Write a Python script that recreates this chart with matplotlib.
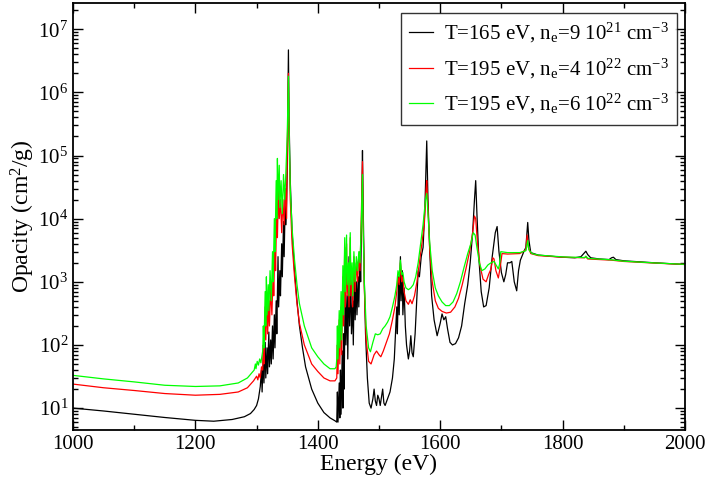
import numpy as np
import matplotlib
matplotlib.use("Agg")
import matplotlib.pyplot as plt
from matplotlib.ticker import MultipleLocator, LogLocator, NullFormatter

plt.rcParams['font.family'] = 'serif'
plt.rcParams['font.serif'] = ['Liberation Serif', 'DejaVu Serif']
plt.rcParams['mathtext.fontset'] = 'custom'
plt.rcParams['mathtext.rm'] = 'Liberation Serif'
plt.rcParams['mathtext.it'] = 'Liberation Serif:italic'

# T=165 eV, ne=9e21 (black)
e_black = [1000, 1050, 1100, 1150, 1200, 1230, 1260, 1280, 1290, 1296, 1300, 1303, 1306, 1308, 1309,
           1311, 1312, 1314, 1315, 1317, 1318, 1320, 1321, 1323, 1324, 1326, 1327, 1329, 1330, 1332,
           1333, 1335, 1336, 1338, 1339, 1341, 1342, 1344, 1345, 1347, 1348, 1350, 1351, 1352, 1353,
           1355, 1358, 1362, 1366, 1370, 1375, 1380, 1390, 1400, 1410, 1420, 1428, 1431, 1432, 1433,
           1435, 1436, 1437, 1438, 1440, 1441, 1442, 1443, 1445, 1446, 1448, 1449, 1451, 1452, 1454,
           1455, 1457, 1458, 1460, 1461, 1463, 1464, 1466, 1467, 1469, 1470, 1472, 1473, 1474, 1476,
           1478, 1481, 1484, 1487, 1490, 1492, 1494, 1496, 1498, 1500, 1502, 1504, 1506, 1508, 1510,
           1514, 1518, 1522, 1525, 1527, 1529, 1530, 1532, 1533, 1535, 1536, 1538, 1539, 1541, 1543,
           1545, 1548, 1550, 1552, 1554, 1556, 1559, 1562, 1564, 1566, 1569, 1572, 1575, 1578, 1580,
           1583, 1586, 1590, 1595, 1600, 1603, 1606, 1609, 1612, 1616, 1620, 1625, 1630, 1635, 1640,
           1645, 1649, 1653, 1656, 1658, 1660, 1663, 1667, 1671, 1675, 1680, 1685, 1690, 1693, 1696,
           1700, 1704, 1707, 1710, 1714, 1717, 1721, 1725, 1728, 1731, 1736, 1740, 1743, 1745, 1748,
           1760, 1780, 1800, 1820, 1830, 1836, 1838, 1841, 1846, 1860, 1876, 1880, 1883, 1887, 1900,
           1950, 2000]
op_black = [10.0, 9.0, 8.0, 7.1, 6.4, 6.2, 6.6, 7.3, 8.2, 9.5, 11, 14, 22, 40, 18,
            70, 25, 110, 30, 90, 35, 160, 45, 120, 50, 200, 60, 300, 90, 500,
            150, 2500, 400, 1500, 600, 4000, 1200, 9000, 2500, 25000, 8000, 50000, 5e5, 4.7e6, 4e5,
            4e4, 6000, 1500, 500, 200, 90, 45, 20, 12, 8.5, 7, 6.3, 6, 18, 6,
            25, 7, 40, 8, 80, 10, 150, 20, 1500, 100, 600, 60, 2500, 200, 1200,
            150, 500, 100, 2000, 250, 1000, 300, 1200, 400, 3000, 1000, 2e4, 1.2e5, 2e4, 1000,
            150, 30, 12, 10, 14, 20, 13, 11, 16, 14, 11, 15, 20, 12, 11,
            14, 18, 30, 60, 150, 400, 150, 1200, 300, 2500, 500, 1500, 300, 800, 200,
            100, 60, 80, 140, 75, 65, 150, 600, 1500, 1200, 2500, 3500, 1.5e4, 1.7e5, 2e4,
            3000, 600, 250, 140, 220, 310, 250, 280, 180, 110, 100, 105, 130, 200, 450,
            900, 2000, 6000, 2e4, 4e4, 1.2e4, 2500, 700, 400, 420, 800, 2500, 6000, 7500, 3000,
            1400, 1000, 1300, 2000, 2000, 2100, 1000, 720, 1500, 2200, 2900, 3500, 8700, 4500, 2900,
            2650, 2550, 2450, 2400, 2500, 2900, 3050, 2700, 2400, 2300, 2250, 2400, 2450, 2250, 2150,
            2000, 1880]

# T=195 eV, ne=4e22 (red)
e_red = [1000, 1050, 1100, 1150, 1200, 1240, 1270, 1285, 1295, 1300, 1302, 1304, 1306, 1308, 1310,
         1311, 1312, 1314, 1315, 1317, 1318, 1320, 1321, 1323, 1325, 1327, 1328, 1330, 1331, 1333,
         1334, 1336, 1337, 1339, 1341, 1343, 1345, 1347, 1349, 1350, 1352, 1353, 1355, 1358, 1362,
         1366, 1370, 1378, 1390, 1400, 1410, 1420, 1428, 1431, 1432, 1433, 1435, 1436, 1438, 1439,
         1441, 1442, 1444, 1445, 1447, 1448, 1450, 1451, 1453, 1454, 1456, 1457, 1459, 1461, 1463,
         1465, 1467, 1469, 1471, 1473, 1474, 1476, 1479, 1483, 1487, 1492, 1496, 1500, 1503, 1507,
         1512, 1517, 1522, 1526, 1529, 1531, 1533, 1535, 1537, 1539, 1541, 1544, 1548, 1551, 1554,
         1558, 1562, 1566, 1570, 1574, 1577, 1578, 1580, 1583, 1587, 1592, 1597, 1603, 1610, 1617,
         1624, 1630, 1636, 1642, 1648, 1653, 1656, 1658, 1661, 1665, 1670, 1675, 1679, 1683, 1686,
         1688, 1691, 1695, 1698, 1701, 1710, 1730, 1740, 1742, 1744, 1748, 1760, 1800, 1836, 1838,
         1841, 1880, 1900, 1950, 2000]
op_red = [24, 21, 19, 17, 16, 16.5, 18, 21, 27, 32, 28, 35, 30, 45, 40,
          100, 50, 400, 120, 600, 150, 500, 200, 800, 300, 1500, 600, 5000, 1500, 2e4,
          5000, 4e4, 1e4, 2e4, 6000, 2e4, 8000, 3e4, 1e4, 1e5, 2e6, 2e5, 2e4, 4000, 1200,
          450, 220, 100, 50, 38, 30, 27, 27, 30, 100, 35, 250, 50, 400, 70,
          1200, 200, 3500, 400, 4000, 600, 1500, 400, 5000, 600, 1500, 400, 2500, 700, 2000,
          1000, 2500, 1500, 1e4, 8e4, 1e4, 800, 120, 55, 50, 70, 80, 70, 65, 80,
          110, 150, 250, 400, 700, 1200, 900, 2000, 1000, 1200, 700, 500, 440, 520, 450,
          600, 1000, 2000, 4000, 8000, 3e4, 4e4, 1.5e4, 3000, 1000, 500, 380, 340, 320, 330,
          400, 550, 900, 1600, 3000, 6000, 1.1e4, 1e4, 4000, 1800, 1100, 1000, 1300, 1600, 2400,
          2300, 1500, 1150, 1700, 2800, 2750, 2800, 3200, 5500, 3500, 2800, 2600, 2450, 2400, 2500,
          2300, 2200, 2100, 1980, 1880]

# T=195 eV, ne=6e22 (green)
e_green = [1000, 1050, 1100, 1150, 1200, 1240, 1270, 1285, 1292, 1296, 1298, 1299, 1301, 1303, 1305,
           1307, 1309, 1310, 1311, 1312, 1314, 1315, 1316, 1317, 1319, 1320, 1322, 1324, 1326, 1327,
           1329, 1330, 1332, 1333, 1334, 1335, 1337, 1338, 1340, 1342, 1344, 1346, 1348, 1350, 1352,
           1353, 1355, 1358, 1362, 1366, 1370, 1378, 1390, 1400, 1410, 1420, 1428, 1430, 1431, 1432,
           1433, 1435, 1436, 1438, 1439, 1441, 1442, 1444, 1445, 1447, 1448, 1450, 1451, 1453, 1454,
           1456, 1457, 1459, 1461, 1463, 1465, 1467, 1469, 1471, 1473, 1474, 1476, 1479, 1483, 1486,
           1490, 1494, 1498, 1502, 1506, 1510, 1514, 1518, 1522, 1526, 1529, 1531, 1533, 1535, 1537,
           1539, 1541, 1544, 1548, 1552, 1556, 1560, 1564, 1568, 1572, 1576, 1578, 1580, 1583, 1587,
           1592, 1597, 1603, 1609, 1615, 1621, 1627, 1633, 1639, 1645, 1650, 1654, 1657, 1660, 1664,
           1668, 1673, 1678, 1683, 1688, 1692, 1695, 1697, 1699, 1710, 1730, 1740, 1743, 1745, 1750,
           1760, 1800, 1836, 1838, 1841, 1880, 1900, 1950, 2000]
op_green = [33, 29, 26, 23, 22, 22.5, 25, 30, 36, 40, 50, 42, 55, 48, 60,
            52, 70, 80, 200, 90, 700, 200, 1200, 300, 900, 350, 1500, 500, 3000, 1000,
            1e4, 3000, 4e4, 1e4, 9e4, 2e4, 7e4, 1.5e4, 4e4, 1.2e4, 5e4, 2e4, 6e4, 2e5, 1.8e6,
            3e5, 3e4, 7000, 2200, 900, 450, 200, 90, 65, 50, 42, 42, 45, 60, 200,
            60, 350, 90, 700, 120, 1800, 300, 5000, 700, 5500, 900, 2000, 600, 6000, 900,
            2000, 600, 3000, 1000, 2500, 1500, 3000, 2000, 8000, 5e4, 8000, 1000, 200, 90, 78,
            110, 150, 145, 150, 180, 200, 230, 280, 400, 600, 900, 1500, 1200, 2200, 1300,
            1400, 1000, 800, 750, 800, 900, 1200, 2000, 4000, 8000, 2e4, 2.5e4, 1.2e4, 4000, 1500,
            800, 600, 480, 420, 420, 480, 650, 1000, 1700, 2800, 4000, 6000, 5500, 3500, 2000,
            1500, 1600, 1850, 2000, 2100, 1800, 1600, 1900, 3000, 2900, 2900, 3100, 4500, 3200, 2800,
            2650, 2480, 2420, 2550, 2350, 2230, 2120, 1990, 1890]

labels = [r'T=165 eV, n$_\mathrm{e}$=9 10$^{21}$ cm$^{-3}$',
          r'T=195 eV, n$_\mathrm{e}$=4 10$^{22}$ cm$^{-3}$',
          r'T=195 eV, n$_\mathrm{e}$=6 10$^{22}$ cm$^{-3}$']

fig = plt.figure(figsize=(7.06, 4.80), dpi=100)
ax = fig.add_axes([73/706, 1 - 430/480, 612/706, 427/480])

ax.plot(e_black, op_black, color='black', lw=0.9, label=labels[0])
ax.plot(e_red, op_red, color='#ff0000', lw=0.9, label=labels[1])
ax.plot(e_green, op_green, color='#00ff00', lw=0.9, label=labels[2])

ax.set_yscale('log')
ax.set_xlim(1000, 2000)
ax.set_ylim(4.5, 2.6e7)

ax.xaxis.set_major_locator(MultipleLocator(200))
ax.xaxis.set_minor_locator(MultipleLocator(100))
ax.yaxis.set_major_locator(LogLocator(base=10, numticks=20))
ax.yaxis.set_minor_locator(LogLocator(base=10, subs=np.arange(2, 10), numticks=20))
ax.yaxis.set_minor_formatter(NullFormatter())

ax.tick_params(which='both', direction='in', top=True, right=True, width=1.0, labelsize=15)
ax.tick_params(which='major', length=7.5)
ax.tick_params(which='minor', length=3.5)
for s in ax.spines.values():
    s.set_linewidth(1.3)

ax.set_xlabel('Energy (eV)', fontsize=17, labelpad=0)
ax.set_ylabel(r'Opacity (cm$^{2}$/g)', fontsize=17, labelpad=1)

leg = ax.legend(loc='upper right', bbox_to_anchor=(0.987, 0.977), borderaxespad=0,
                fontsize=15, frameon=True, fancybox=False, edgecolor='black',
                handlelength=1.15, labelspacing=0.55, borderpad=0.4, handletextpad=0.5)
leg.get_frame().set_linewidth(1.0)

plt.savefig('out.png', dpi=100)
